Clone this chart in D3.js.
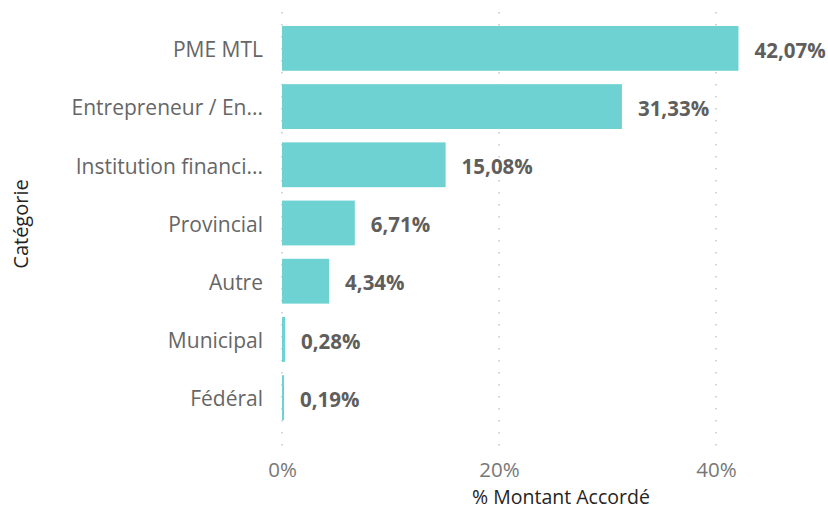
<!DOCTYPE html>
<html>
<head>
<meta charset="utf-8">
<script src="https://cdn.jsdelivr.net/npm/d3@7"></script>
<style>
  body { margin: 0; background: #fff; }
  text { font-family: "Open Sans", "Noto Sans", sans-serif; }
</style>
</head>
<body>
<div id="chart"></div>
<script>
// data
const categories = ["PME MTL", "Entrepreneur / En...", "Institution financi...", "Provincial", "Autre", "Municipal", "Fédéral"];
const values = [42.07, 31.33, 15.08, 6.71, 4.34, 0.28, 0.19];
const tickValues = [0, 20, 40];

const w = 828, h = 509;
const x0 = 282, x40 = 716;

let svg = d3.select("#chart").append("svg")
            .attr("width", w)
            .attr("height", h);

let x = d3.scaleLinear()
          .domain([0, 40])
          .range([x0, x40]);

let y = d3.scaleBand()
          .domain(categories)
          .range([12, 434])
          .paddingInner(0.23)
          .paddingOuter(0.24);

// gridlines, dotted
svg.append("g")
   .selectAll("line")
   .data(tickValues)
   .join("line")
   .attr("x1", d => x(d))
   .attr("x2", d => x(d))
   .attr("y1", 12)
   .attr("y2", 447)
   .attr("stroke", "#c8c8c8")
   .attr("stroke-width", 1.5)
   .attr("stroke-dasharray", "1.5,10.5");

// bars
svg.append("g")
   .selectAll("rect")
   .data(values)
   .join("rect")
   .attr("x", x(0))
   .attr("y", (d, i) => y(categories[i]))
   .attr("width", d => x(d) - x(0))
   .attr("height", y.bandwidth())
   .attr("fill", "#6fd2d2");

// data labels
svg.append("g")
   .selectAll("text")
   .data(values)
   .join("text")
   .attr("x", d => x(d) + 16)
   .attr("y", (d, i) => y(categories[i]) + y.bandwidth() / 2)
   .attr("dy", "0.45em")
   .attr("font-size", 20.5)
   .attr("font-weight", "bold")
   .attr("fill", "#605e5c")
   .text(d => d.toFixed(2).replace(".", ",") + "%");

// category axis
let yAxis = svg.append("g")
               .attr("transform", "translate(" + (x0 - 19) + ",0)")
               .call(d3.axisLeft(y).tickSize(0).tickPadding(0));
yAxis.select(".domain").remove();
yAxis.selectAll("text")
     .attr("dy", "0.42em")
     .attr("font-size", 21)
     .attr("fill", "#666")
     .style("font-family", "\"Open Sans\", \"Noto Sans\", sans-serif");

// value axis
let xAxis = svg.append("g")
               .attr("transform", "translate(0,462)")
               .call(d3.axisBottom(x).tickValues(tickValues).tickSize(0).tickPadding(0)
                       .tickFormat(d => d + "%"));
xAxis.select(".domain").remove();
xAxis.selectAll("text")
     .attr("font-size", 20.5)
     .attr("fill", "#777")
     .style("font-family", "\"Open Sans\", \"Noto Sans\", sans-serif");

// axis titles
svg.append("text")
   .attr("x", 561)
   .attr("y", 504)
   .attr("text-anchor", "middle")
   .attr("font-size", 19.5)
   .attr("fill", "#252423")
   .text("% Montant Accordé");

svg.append("text")
   .attr("transform", "translate(28,224) rotate(-90)")
   .attr("text-anchor", "middle")
   .attr("font-size", 20)
   .attr("fill", "#252423")
   .text("Catégorie");
</script>
</body>
</html>
